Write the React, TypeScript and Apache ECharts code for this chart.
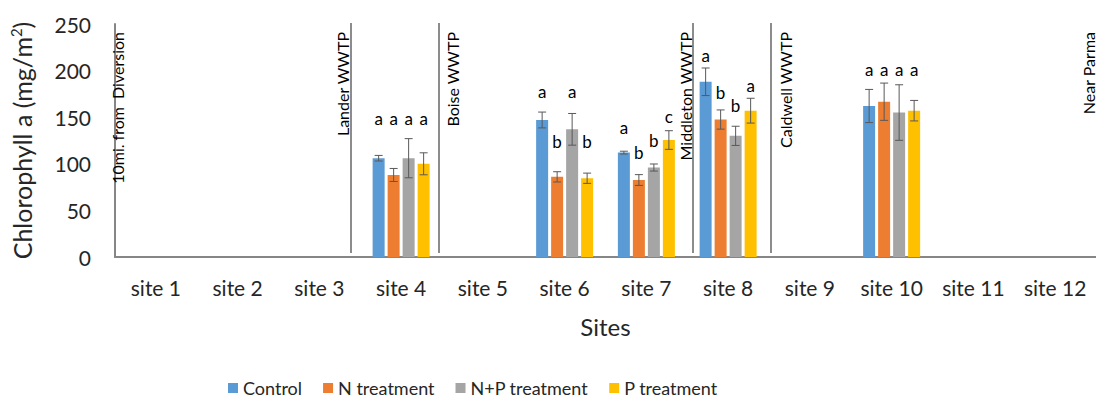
import React, { useEffect, useRef } from "react";
import * as echarts from "echarts";

const sites = ["site 1", "site 2", "site 3", "site 4", "site 5", "site 6", "site 7", "site 8", "site 9", "site 10", "site 11", "site 12"];
const seriesNames = ["Control", "N treatment", "N+P treatment", "P treatment"];
const colors = ["#5B9BD5", "#ED7D31", "#A5A5A5", "#FFC000"];

const control = [null, null, null, 106, null, 147, 112, 188, null, 162, null, null];
const nTreat = [null, null, null, 88, null, 86, 82.6, 147.5, null, 166.6, null, null];
const npTreat = [null, null, null, 106, null, 137, 96, 130, null, 155, null, null];
const pTreat = [null, null, null, 100, null, 84.5, 125.5, 157, null, 157, null, null];

const controlErr = [null, null, null, 3, null, 8.5, 1.5, 14.8, null, 17.8, null, null];
const nErr = [null, null, null, 7, null, 5.5, 5.8, 10.3, null, 20, null, null];
const npErr = [null, null, null, 21, null, 17, 3.8, 10.3, null, 29.8, null, null];
const pErr = [null, null, null, 11.8, null, 5.5, 10, 13.3, null, 11, null, null];

const controlLetters = [null, null, null, "a", null, "a", "a", "a", null, "a", null, null];
const nLetters = [null, null, null, "a", null, "b", "b", "b", null, "a", null, null];
const npLetters = [null, null, null, "a", null, "a", "b", "b", null, "a", null, null];
const pLetters = [null, null, null, "a", null, "b", "c", "a", null, "a", null, null];

const controlLetterY = [null, null, null, 149, null, 178, 139, 216.7, null, 201, null, null];
const nLetterY = [null, null, null, 149, null, 124, 112, 177, null, 201, null, null];
const npLetterY = [null, null, null, 149, null, 178, 125.5, 163, null, 201, null, null];
const pLetterY = [null, null, null, 149, null, 124, 151, 183.5, null, 201, null, null];

const siteNotes = ["10mi. from  Diversion", "Lander WWTP", "Boise WWTP", "Middleton WWTP", "Caldwell WWTP", "Near Parma"];

const FONT = "Lato, 'Open Sans', sans-serif";

export default function App() {
  const ref = useRef<HTMLDivElement>(null);
  useEffect(() => {
    if (!ref.current) return;
    const chart = echarts.init(ref.current, undefined, { renderer: "svg" });
    const values = [control, nTreat, npTreat, pTreat];
    const errs = [controlErr, nErr, npErr, pErr];
    const letters = [controlLetters, nLetters, npLetters, pLetters];
    const letterYs = [controlLetterY, nLetterY, npLetterY, pLetterY];
    const barWidth = 12;
    const step = 15;

    const barSeries = values.map((v, i) => ({
      name: seriesNames[i],
      type: "bar",
      data: v,
      barWidth,
      barGap: "25%",
      itemStyle: { color: colors[i] },
      z: 2,
    }));

    const errSeries = errs.map((e, i) => {
      const data: number[][] = [];
      e.forEach((err, k) => {
        const val = values[i][k];
        if (err != null && val != null) data.push([k, val as number, err as number]);
      });
      return {
        name: seriesNames[i] + " err",
        type: "custom",
        data,
        z: 5,
        renderItem: (params: any, api: any) => {
          const x = api.value(0);
          const v = api.value(1);
          const er = api.value(2);
          const hi = api.coord([x, v + er]);
          const lo = api.coord([x, v - er]);
          const cx = hi[0] + (i - 1.5) * step;
          const style = { stroke: "#595959", lineWidth: 1 };
          return {
            type: "group",
            children: [
              { type: "line", shape: { x1: cx, y1: hi[1], x2: cx, y2: lo[1] }, style },
              { type: "line", shape: { x1: cx - 4, y1: hi[1], x2: cx + 4, y2: hi[1] }, style },
              { type: "line", shape: { x1: cx - 4, y1: lo[1], x2: cx + 4, y2: lo[1] }, style },
            ],
          };
        },
      };
    });

    const letterSeries = letters.map((L, i) => {
      const data: any[] = [];
      const texts: string[] = [];
      L.forEach((t, k) => {
        const y = letterYs[i][k];
        if (t != null && y != null) {
          data.push([k, y]);
          texts.push(t as string);
        }
      });
      return {
        name: seriesNames[i] + " letters",
        type: "custom",
        data,
        z: 6,
        renderItem: (params: any, api: any) => {
          const p = api.coord([api.value(0), api.value(1)]);
          return {
            type: "text",
            x: p[0] + (i - 1.5) * step,
            y: p[1],
            style: {
              text: texts[params.dataIndex],
              fill: "#000",
              font: `17px ${FONT}`,
              align: "center",
              verticalAlign: "middle",
            },
          };
        },
      };
    });

    const lineXs = [351, 439, 693, 771];
    const noteSpec = [
      { x: 117, text: siteNotes[0] },
      { x: 342, text: siteNotes[1] },
      { x: 452, text: siteNotes[2] },
      { x: 685, text: siteNotes[3] },
      { x: 785, text: siteNotes[4] },
      { x: 1088, text: siteNotes[5] },
    ];

    const graphics: any[] = [
      ...lineXs.map((x) => ({
        type: "line",
        shape: { x1: x, y1: 23, x2: x, y2: 253 },
        style: { stroke: "#8C8C8C", lineWidth: 2 },
        z: 10,
      })),
      ...noteSpec.map((n) => ({
        type: "text",
        x: n.x,
        y: 32,
        rotation: Math.PI / 2,
        style: {
          text: n.text,
          fill: "#000",
          font: `16px ${FONT}`,
          align: "right",
          verticalAlign: "middle",
        },
        z: 10,
      })),
    ];

    chart.setOption({
      animation: false,
      textStyle: { fontFamily: FONT },
      grid: { left: 109, right: -2, top: 24, bottom: 143, containLabel: false },
      legend: {
        data: seriesNames,
        left: 228,
        top: 379,
        padding: 0,
        itemWidth: 10,
        itemHeight: 10,
        itemGap: 21,
        icon: "rect",
        textStyle: { fontSize: 18, color: "#262626", fontFamily: FONT },
      },
      xAxis: {
        type: "category",
        data: sites,
        axisLine: { lineStyle: { color: "#868686", width: 2 } },
        axisTick: { show: false },
        axisLabel: { fontSize: 21, color: "#262626", margin: 20, fontFamily: FONT },
        name: "Sites",
        nameLocation: "middle",
        nameGap: 57,
        nameTextStyle: { fontSize: 24, color: "#262626", fontFamily: FONT },
      },
      yAxis: {
        type: "value",
        min: 0,
        max: 250,
        interval: 50,
        splitLine: { show: false },
        axisLine: { show: true, lineStyle: { color: "#868686", width: 2 } },
        axisTick: { show: false },
        axisLabel: { fontSize: 21, color: "#262626", margin: 24, fontFamily: FONT },
        name: "{a|Chlorophyll a (mg/m}{b|2}{a|)}",
        nameLocation: "middle",
        nameGap: 80,
        nameTextStyle: {
          rich: {
            a: { fontSize: 25, color: "#262626", fontFamily: FONT },
            b: { fontSize: 15, color: "#262626", fontFamily: FONT, padding: [0, 0, 12, 0] },
          },
        },
      },
      series: [...barSeries, ...errSeries, ...letterSeries],
      graphic: graphics,
    });
    return () => chart.dispose();
  }, []);
  return <div ref={ref} style={{ width: 1096, height: 400, position: "absolute", left: 0, top: 0 }} />;
}
